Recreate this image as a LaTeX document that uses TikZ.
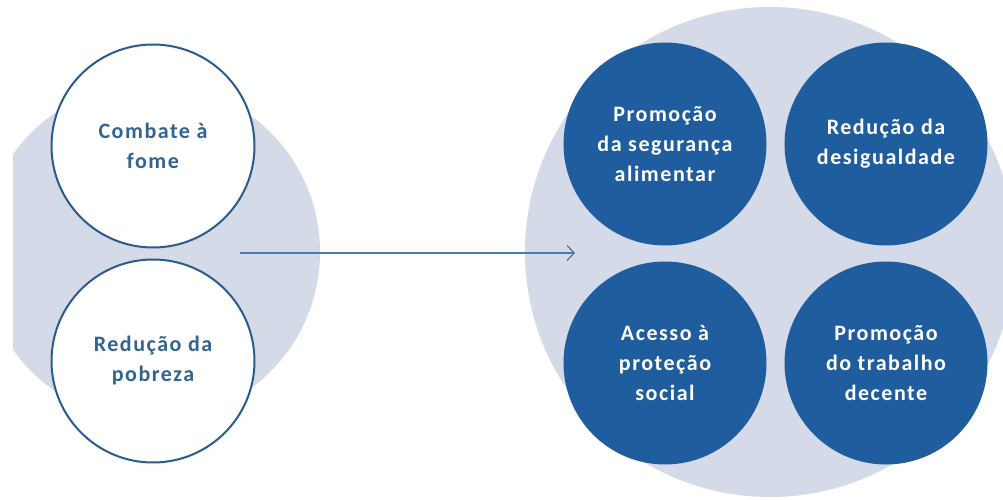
\documentclass[tikz,border=0pt]{standalone}
\usepackage{fontspec}
\setmainfont{Carlito}[LetterSpace=7]
\usetikzlibrary{arrows.meta}
\definecolor{lightbg}{HTML}{D5DAE9}
\definecolor{darkblue}{HTML}{1F5D9E}
\definecolor{outline}{HTML}{2B5A8C}
\definecolor{textblue}{HTML}{33638F}
\definecolor{arrowc}{HTML}{4F7BAA}
\tikzset{
  bgcirc/.style={circle, fill=lightbg, inner sep=0pt},
  wcirc/.style={circle, fill=white, draw=outline, line width=2pt, minimum size=203pt, inner sep=0pt,
    align=center, text=textblue, font=\fontsize{22}{30}\selectfont\bfseries},
  dcirc/.style={circle, fill=darkblue, minimum size=203pt, inner sep=0pt,
    align=center, text=white, font=\fontsize{22}{30}\selectfont\bfseries},
  seta/.style={draw=arrowc, line width=1.5pt, -{Straight Barb[length=7pt,width=15pt,line width=1.3pt]}}
}
\begin{document}
\begin{tikzpicture}[x=1pt,y=-1pt]
\useasboundingbox (0,0) rectangle (1003,500);
\fill[white] (0,0) rectangle (1003,500);
\clip (0,0) rectangle (1003,500);
\begin{scope}
  \clip (13,0) rectangle (400,500);
  \node[bgcirc, minimum size=338pt] (grupoL) at (151,252) {};
\end{scope}
\node[bgcirc, minimum size=490pt] (grupoR) at (770,252) {};
\node[wcirc] (fome) at (153,146) {Combate à\\fome};
\node[wcirc] (pobreza) at (153,361) {Redução da\\pobreza};
\coordinate (a0) at (240,253);
\coordinate (a1) at (575,253);
\draw[seta] (a0) -- (a1);
\node[dcirc] (seg) at (665,144) {Promoção\\da segurança\\alimentar};
\node[dcirc] (desig) at (886,144) {Redução da\\desigualdade};
\node[dcirc] (prot) at (665,363) {Acesso à\\proteção\\social};
\node[dcirc] (trab) at (886,363) {Promoção\\do trabalho\\decente};
\end{tikzpicture}
\end{document}
